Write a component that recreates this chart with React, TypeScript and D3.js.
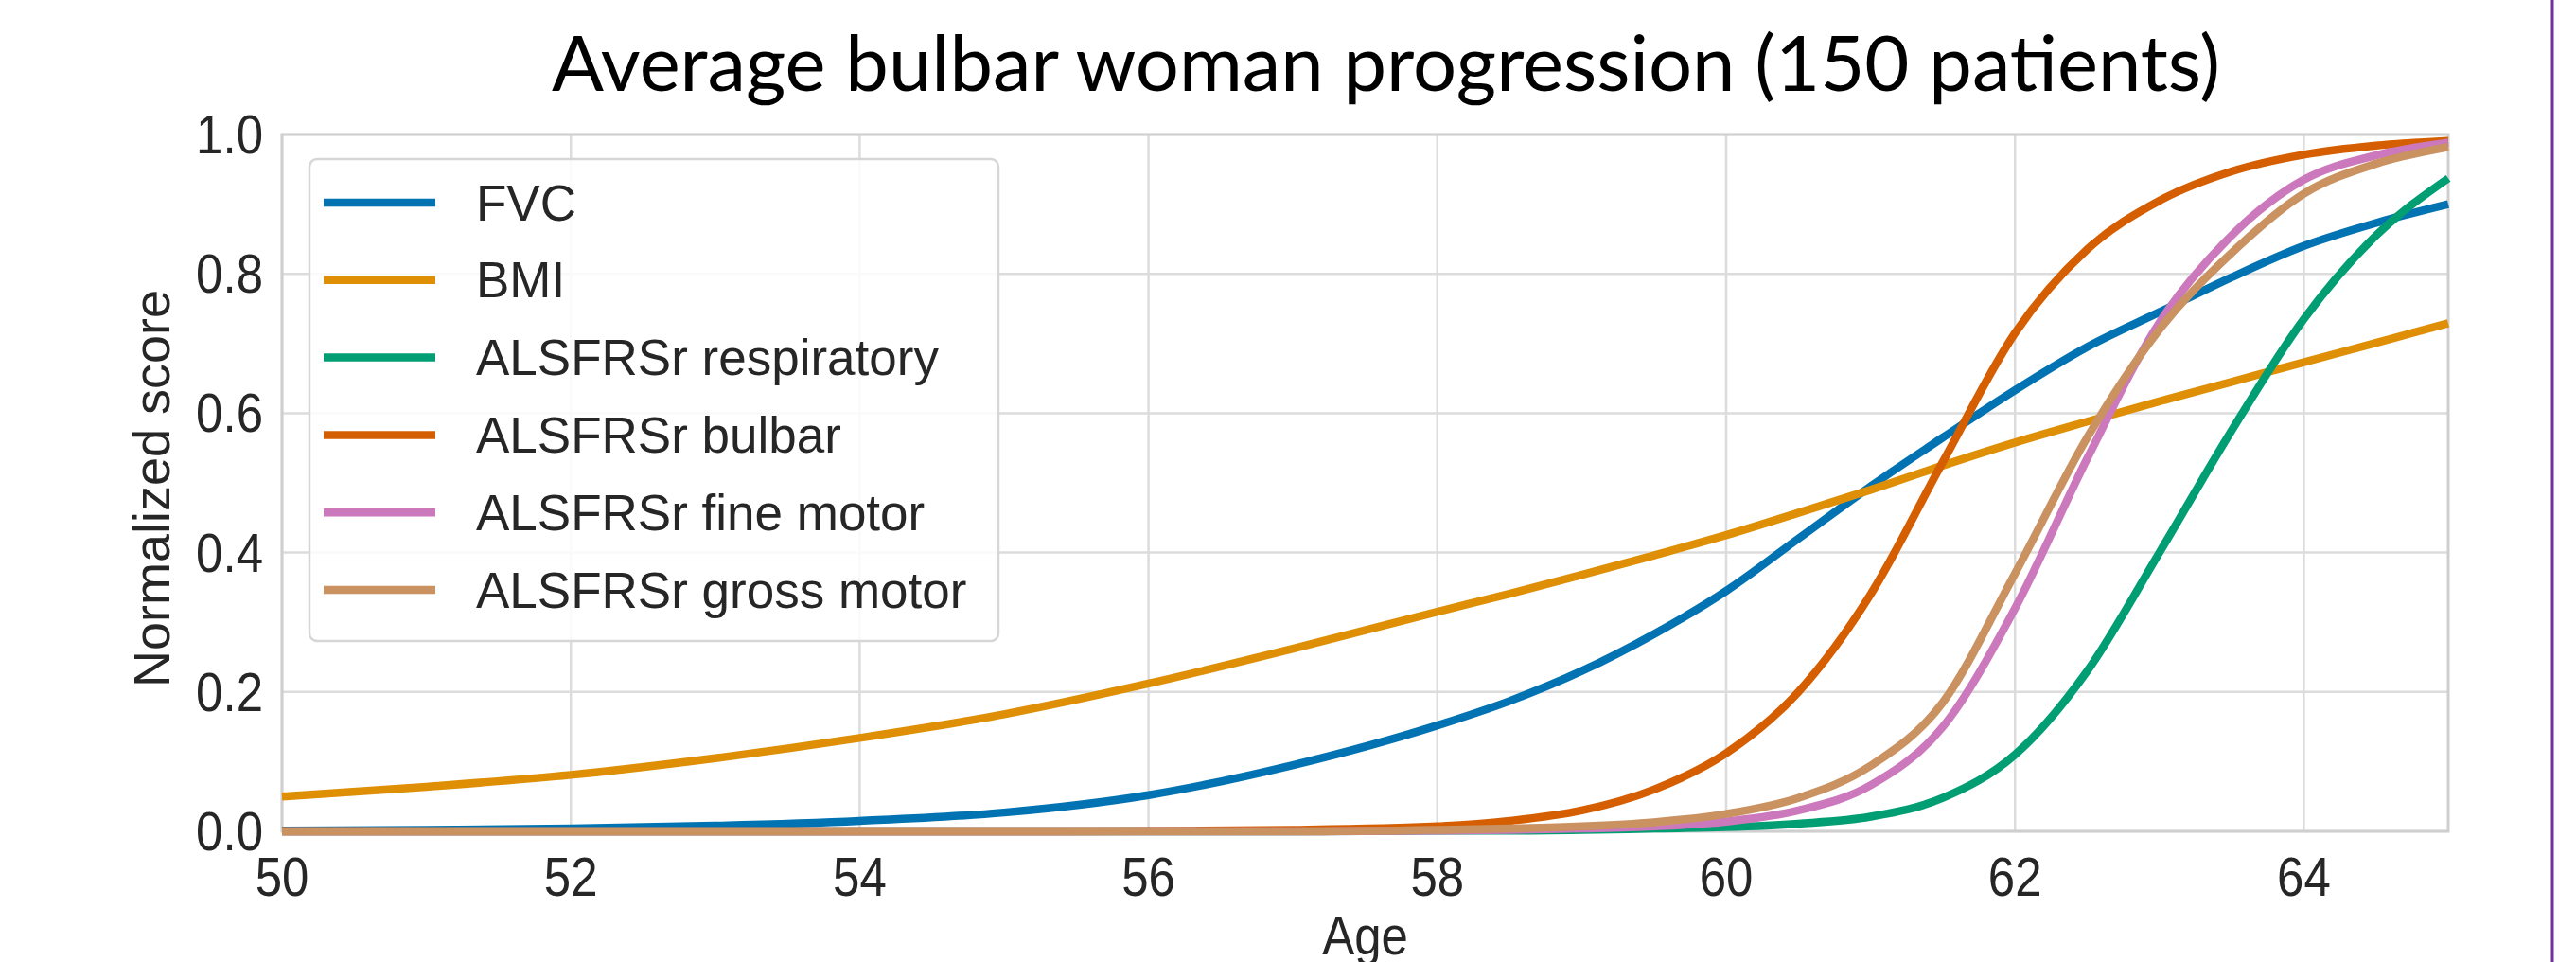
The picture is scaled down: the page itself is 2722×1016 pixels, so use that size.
import * as d3 from 'd3'

const TITLE = 'Average bulbar woman progression (150 patients)'
const X_LABEL = 'Age'
const Y_LABEL = 'Normalized score'

const AGES = [50, 51, 52, 53, 54, 55, 56, 57, 58, 58.5, 59, 59.5, 60, 60.5, 61, 61.5, 62, 62.5, 63, 63.5, 64, 64.5, 65]

const FVC = [0.001, 0.002, 0.004, 0.008, 0.015, 0.027, 0.052, 0.095, 0.152, 0.187, 0.23, 0.283, 0.345, 0.42, 0.495, 0.565, 0.633, 0.695, 0.745, 0.795, 0.84, 0.873, 0.9]
const BMI = [0.05, 0.064, 0.081, 0.105, 0.134, 0.168, 0.212, 0.262, 0.315, 0.341, 0.368, 0.396, 0.425, 0.457, 0.49, 0.525, 0.558, 0.588, 0.617, 0.645, 0.673, 0.701, 0.729]
const RESPIRATORY = [0, 0, 0, 0, 0, 0, 0, 0, 0.001, 0.001, 0.002, 0.004, 0.006, 0.011, 0.021, 0.048, 0.11, 0.23, 0.4, 0.575, 0.735, 0.855, 0.937]
const BULBAR = [0, 0, 0, 0, 0, 0, 0.0005, 0.002, 0.007, 0.015, 0.03, 0.06, 0.112, 0.2, 0.34, 0.53, 0.715, 0.835, 0.905, 0.947, 0.971, 0.984, 0.991]
const FINE_MOTOR = [0, 0, 0, 0, 0, 0, 0, 0, 0.001, 0.002, 0.004, 0.007, 0.014, 0.03, 0.066, 0.15, 0.32, 0.535, 0.73, 0.855, 0.935, 0.97, 0.988]
const GROSS_MOTOR = [0, 0, 0, 0, 0, 0, 0, 0, 0.002, 0.004, 0.007, 0.013, 0.025, 0.048, 0.094, 0.185, 0.37, 0.565, 0.72, 0.83, 0.915, 0.958, 0.982]

const SERIES_NAMES = ['FVC', 'BMI', 'ALSFRSr respiratory', 'ALSFRSr bulbar', 'ALSFRSr fine motor', 'ALSFRSr gross motor']
const SERIES_VALUES = [FVC, BMI, RESPIRATORY, BULBAR, FINE_MOTOR, GROSS_MOTOR]

const X_TICKS = [50, 52, 54, 56, 58, 60, 62, 64]
const Y_TICKS = [0, 0.2, 0.4, 0.6, 0.8, 1.0]

// seaborn "colorblind" palette
const COLORS = ['#0173b2', '#de8f05', '#029e73', '#d55e00', '#cc78bc', '#ca9161']

const W = 2722
const H = 1016
const PLOT = { left: 298, right: 2587, top: 142, bottom: 878 }
const TEXT = '#262626'
const FONT = '"Liberation Sans", Arial, sans-serif'
const STRETCH = 1.12 // the source image is a bit taller than wide

export default function App() {
  const x = d3.scaleLinear().domain([50, 65]).range([PLOT.left, PLOT.right])
  const y = d3.scaleLinear().domain([0, 1]).range([PLOT.bottom, PLOT.top])

  const line = d3
    .line<number>()
    .x((_, i) => x(AGES[i]))
    .y(d => y(d))
    .curve(d3.curveMonotoneX)

  const legend = { x: 327, y: 168, w: 728, h: 509, rowH: 81.8, first: 214 }

  return (
    <svg
      width={W}
      height={H}
      style={{ position: 'absolute', left: 0, top: 0, background: '#fff' }}
      fontFamily={FONT}
    >
      <rect x={0} y={0} width={W} height={H} fill="#fff" />

      {/* title */}
      <text
        x={583}
        y={96}
        fontFamily='Lato, "Open Sans", sans-serif'
        fontSize={82}
        fill="#000"
        textLength={1763}
        lengthAdjust="spacingAndGlyphs"
      >
        {TITLE}
      </text>

      {/* grid */}
      {X_TICKS.map(t => (
        <line key={'gx' + t} x1={x(t)} x2={x(t)} y1={PLOT.top} y2={PLOT.bottom} stroke="#dcdcdc" strokeWidth={2.5} />
      ))}
      {Y_TICKS.map(t => (
        <line key={'gy' + t} x1={PLOT.left} x2={PLOT.right} y1={y(t)} y2={y(t)} stroke="#dcdcdc" strokeWidth={2.5} />
      ))}
      <rect
        x={PLOT.left}
        y={PLOT.top}
        width={PLOT.right - PLOT.left}
        height={PLOT.bottom - PLOT.top}
        fill="none"
        stroke="#cfcfcf"
        strokeWidth={3}
      />

      {/* series */}
      {SERIES_VALUES.map((vals, i) => (
        <path key={SERIES_NAMES[i]} d={line(vals) ?? ''} fill="none" stroke={COLORS[i]} strokeWidth={8.5} />
      ))}

      {/* tick labels */}
      {X_TICKS.map(t => (
        <text
          key={'tx' + t}
          transform={`translate(${x(t)},946) scale(1,${STRETCH})`}
          textAnchor="middle"
          fontSize={51}
          fill={TEXT}
        >
          {t}
        </text>
      ))}
      {Y_TICKS.map(t => (
        <text
          key={'ty' + t}
          transform={`translate(278,${y(t) + 20}) scale(1,${STRETCH})`}
          textAnchor="end"
          fontSize={51}
          fill={TEXT}
        >
          {t.toFixed(1)}
        </text>
      ))}

      {/* axis labels */}
      <text
        transform={`translate(${x(57.5)},1008) scale(1,${STRETCH})`}
        textAnchor="middle"
        fontSize={51}
        fill={TEXT}
      >
        {X_LABEL}
      </text>
      <text
        transform={`translate(179,${(PLOT.top + PLOT.bottom) / 2 + 6}) rotate(-90)`}
        textAnchor="middle"
        fontSize={54}
        fill={TEXT}
      >
        {Y_LABEL}
      </text>

      {/* legend */}
      <rect
        x={legend.x}
        y={legend.y}
        width={legend.w}
        height={legend.h}
        rx={8}
        fill="#fff"
        fillOpacity={0.85}
        stroke="#d6d6d6"
        strokeWidth={2.5}
      />
      {SERIES_NAMES.map((name, i) => {
        const ly = legend.first + i * legend.rowH
        return (
          <g key={'lg' + name}>
            <line x1={342} x2={460} y1={ly} y2={ly} stroke={COLORS[i]} strokeWidth={8.5} />
            <text x={503} y={ly} dominantBaseline="central" fontSize={53} fill={TEXT}>
              {name}
            </text>
          </g>
        )
      })}

      {/* slide border on the right */}
      <line x1={2697} x2={2697} y1={0} y2={H} stroke="#7030a0" strokeWidth={3} />
    </svg>
  )
}
